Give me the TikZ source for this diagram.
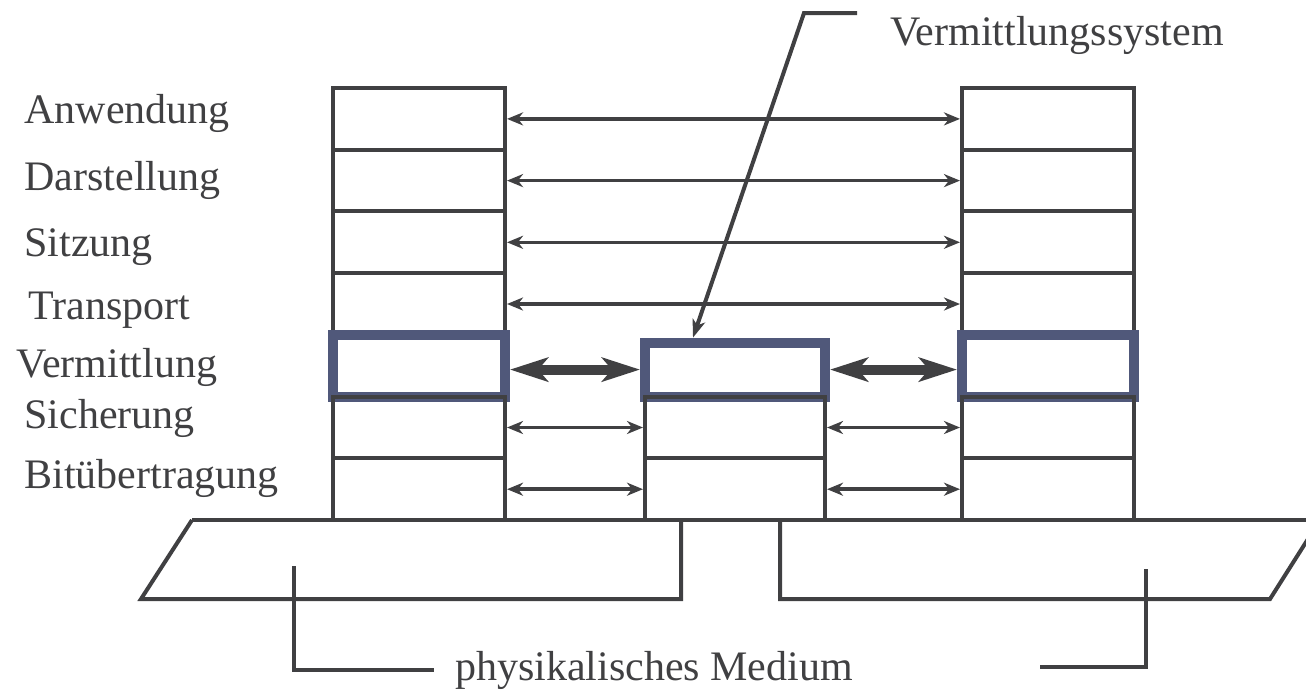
\documentclass[tikz,border=0pt]{standalone}
\usepackage{fontspec}
\setmainfont{Liberation Serif}
\usetikzlibrary{arrows.meta}

\definecolor{linegray}{RGB}{64,64,66}
\definecolor{netblue}{RGB}{80,88,122}

\begin{document}
\begin{tikzpicture}
  [x=1pt, y=-1pt,
   font=\fontsize{42}{50}\selectfont, text=linegray,
   layer/.style = {draw=linegray, line width=4pt, minimum width=172pt,
                   minimum height=61.7pt, inner sep=0pt},
   midlayer/.style = {layer, minimum width=180pt},
   netlayer/.style = {draw=netblue, line width=10pt},
   layername/.style = {anchor=base west},
   wire/.style = {draw=linegray, line width=4pt},
   peer/.style = {linegray, line width=3.5pt,
                  {Stealth[length=16pt,width=13pt,inset=5pt]}-{Stealth[length=16pt,width=13pt,inset=5pt]}},
   hop/.style = {linegray, line width=10pt,
                 {Stealth[length=38pt,width=24pt,inset=10pt]}-{Stealth[length=38pt,width=24pt,inset=10pt]}},
   pointer/.style = {wire, -{Stealth[length=18pt,width=13pt,inset=5pt]}}]

\clip (0,0) rectangle (1306,696);

% Medium
\draw[wire] (192,520) -- (1320,520);
\draw[wire] (192,520) -- (141,599) -- (681,599) -- (681,520);
\draw[wire] (780,520) -- (780,599) -- (1270,599) -- (1320,520);

% Left end system
\node[layer] (la1) at (419,118.9) {};
\node[layer] (la2) at (419,180.6) {};
\node[layer] (la3) at (419,242.3) {};
\node[layer] (la4) at (419,304.0) {};
\node[layer, netlayer] (la5) at (419,365.8) {};
\node[layer] (la6) at (419,427.5) {};
\node[layer] (la7) at (419,489.2) {};

% Right end system
\node[layer] (ra1) at (1048,118.9) {};
\node[layer] (ra2) at (1048,180.6) {};
\node[layer] (ra3) at (1048,242.3) {};
\node[layer] (ra4) at (1048,304.0) {};
\node[layer, netlayer] (ra5) at (1048,365.8) {};
\node[layer] (ra6) at (1048,427.5) {};
\node[layer] (ra7) at (1048,489.2) {};

% Intermediate system
\node[midlayer, netlayer, minimum height=54pt] (m5) at (735,369.6) {};
\node[midlayer] (m6) at (735,427.5) {};
\node[midlayer] (m7) at (735,489.2) {};

% Layer names
\node[layername] (n1) at (21,123) {Anwendung};
\node[layername] (n2) at (21,190) {Darstellung};
\node[layername] (n3) at (21,256) {Sitzung};
\node[layername] (n4) at (25,319) {Transport};
\node[layername] (n5) at (13,377) {Vermittlung};
\node[layername] (n6) at (21,428) {Sicherung};
\node[layername] (n7) at (21,488) {Bitübertragung};

% Peer protocols
\draw[peer] (la1) -- (ra1);
\draw[peer] (la2) -- (ra2);
\draw[peer] (la3) -- (ra3);
\draw[peer] (la4) -- (ra4);
\draw[hop] (la5.east |- m5.west) -- (m5.west);
\draw[hop] (m5.east) -- (m5.east -| ra5.west);
\draw[peer] (la6) -- (m6);
\draw[peer] (m6) -- (ra6);
\draw[peer] (la7) -- (m7);
\draw[peer] (m7) -- (ra7);

% Labels with leaders
\node[anchor=base] (sys) at (1057,45) {Vermittlungssystem};
\coordinate (lead) at (857,13);
\draw[pointer] (lead) -- (804,13) -- ([xshift=-42pt]m5.north);

\node[inner xsep=21pt, inner ysep=0pt] (med) at (654,670) {physikalisches Medium};
\coordinate (ltop) at (294,566);
\draw[wire] (ltop) |- (med.west);
\coordinate (rtop) at (1146,569);
\coordinate (rend) at (1040,667);
\draw[wire] (rend) -| (rtop);

\end{tikzpicture}
\end{document}
